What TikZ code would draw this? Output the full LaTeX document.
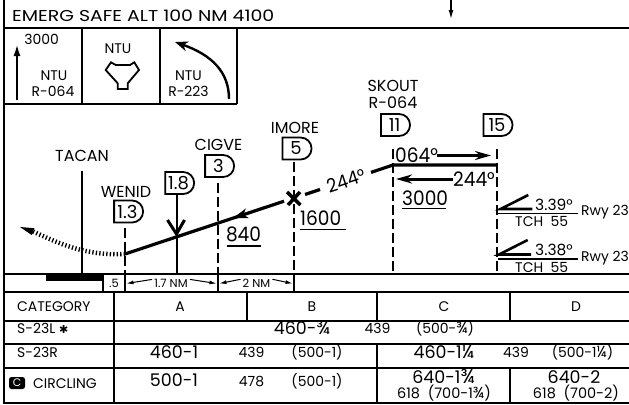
\documentclass[tikz,border=0pt]{standalone}
\usepackage{fontspec}
\setmainfont{Poppins}
\newfontfamily\widefont[FakeStretch=1.2]{Poppins}
\newfontfamily\altfont[FakeStretch=0.93]{Poppins}
\newfontfamily\symfont{DejaVu Sans}
\usetikzlibrary{arrows.meta,shapes.misc}
\newcommand\myfs[1]{\fontsize{#1}{#1}\selectfont}
\tikzset{
  txt/.style={inner sep=0pt, anchor=base},
  txtl/.style={inner sep=0pt, anchor=base west},
  frame/.style={line width=2bp},
  boxline/.style={line width=1.8bp},
  thinline/.style={line width=1.4bp},
  vdash/.style={line width=1.4bp, dash pattern=on 10bp off 4bp},
  fix/.style={draw, line width=1.8bp, rounded rectangle, rounded rectangle left arc=none,
    minimum width=29bp, minimum height=22bp, inner sep=0pt, font=\myfs{18}},
  pathline/.style={line width=3.2bp},
  fixname/.style={txt, font=\myfs{16}},
  alt/.style={txt, font=\altfont\myfs{20}},
  lab/.style={txt, font=\myfs{14}},
  gsl/.style={txt, font=\myfs{15.5}},
  small/.style={txt, font=\myfs{11.5}},
  big/.style={txt, font=\myfs{17.5}},
  mid/.style={txt, font=\myfs{14}},
  sarr/.style={line width=1bp, -{Latex[length=7bp,width=4bp]}},
}
\begin{document}
\begin{tikzpicture}[x=1bp,y=-1bp]
\useasboundingbox (0,0) rectangle (629,404);
% ---------- header ----------
\draw[frame] (4,0) -- (4,404);
\draw[frame] (4,27.5) -- (629,27.5);
\node[txtl, font=\widefont\myfs{15.8}] (title) at (12,21.5) {EMERG SAFE ALT 100 NM 4100};
\coordinate (dtop) at (451,0);
\coordinate (dbot) at (451,19);
\draw[line width=1.2bp, -{Latex[length=9bp,width=5bp]}] (dtop) -- (dbot);
% boxes
\draw[boxline] (82,27.5) -- (82,104) (160,27.5) -- (160,104) (237,27.5) -- (237,104);
\draw[boxline] (4,104) -- (237,104);
% box 1
\coordinate (ua) at (17,100);
\coordinate (ub) at (17,44);
\draw[line width=2.2bp, -{Latex[length=12bp,width=7bp]}] (ua) -- (ub);
\node[lab] (b1alt) at (41.7,44) {3000};
\node[lab] (b1ntu) at (54,80) {NTU};
\node[lab] (b1r) at (53,96.5) {R-064};
% box 2
\node[lab] (b2ntu) at (118,53) {NTU};
\draw[line width=1.8bp, line join=miter] (115.7,65) -- (111,62.3) -- (105.7,70) -- (117.7,83.3) -- (117.7,89)
  -- (127.7,89) -- (127.7,83.3) -- (139,70) -- (134.3,62.3) -- (130,65) -- cycle;
% box 3
\node[lab] (b3ntu) at (188.5,80) {NTU};
\node[lab] (b3r) at (188.5,96.5) {R-223};
\coordinate (ca) at (229,99);
\coordinate (cb) at (175,42);
\draw[line width=2.4bp, -{Stealth[length=13bp,width=10bp]}] (ca) .. controls (229,72) and (212,55) .. (cb);
% ---------- profile ----------
\node[fixname] (tacan) at (82,161.7) {TACAN};
\coordinate (t1) at (82,171);
\coordinate (t2) at (82,275);
\draw[thinline] (t1) -- (t2);
% fixes
\node[fixname] (wenid) at (126,197) {WENID};
\node[fix] (f13) at (127.5,211.5) {1.3};
\coordinate (w1) at (125,228);
\coordinate (w2) at (125,274);
\draw[vdash] (w1) -- (w2);

\node[fix] (f18) at (178.5,183) {1.8};
\coordinate (e1) at (177,194);
\coordinate (e2) at (177,274);
\draw[thinline] (e1) -- (e2);

\node[fixname] (cigve) at (218.5,150) {CIGVE};
\node[fix] (f3) at (218.5,166) {3};
\coordinate (c1) at (218,183);
\coordinate (c2) at (218,274);
\draw[vdash] (c1) -- (c2);

\node[fixname] (imore) at (295,133) {IMORE};
\node[fix] (f5) at (296,148.5) {5};
\coordinate (i1) at (294,162);
\coordinate (i2) at (294,274);
\draw[vdash] (i1) -- (i2);

\node[fixname] (skout) at (393,91) {SKOUT};
\node[fixname] (skoutr) at (393,108) {R-064};
\node[fix] (f11) at (394.5,125) {11};
\coordinate (s1) at (393,149);
\coordinate (s2) at (393,274);
\draw[vdash] (s1) -- (s2);

\node[fix] (f15) at (497,125) {15};
\coordinate (m1) at (497,149);
\coordinate (m2) at (497,274);
\draw[vdash] (m1) -- (m2);

% descent path
\coordinate (pW) at (125,254);
\coordinate (pA) at (284,201.2);
\coordinate (pB) at (305,194.5);
\coordinate (pC) at (320,189.5);
\coordinate (pD) at (371,172.4);
\coordinate (pS) at (393,165);
\coordinate (pE) at (497,165);
\draw[pathline] (pW) -- (pA);
\draw[pathline] (pB) -- (pC);
\draw[pathline] (pD) -- (pS) -- (pE);
\node[txt, font=\altfont\myfs{19}, anchor=center, rotate=18.4] (l244) at (346,180.6) {244°};
\draw[line width=3.5bp] (287,192) -- (300.5,205) (288,205) -- (300,192);
\coordinate (qa) at (252,211.8);
\coordinate (qb) at (233,218.1);
\draw[line width=2bp, -{Stealth[length=15bp,width=10bp,inset=4bp]}] (qa) -- (qb);
% V marker
\draw[line width=3bp] (167.5,220) -- (176.5,234) -- (184.5,220);
% missed approach dotted curve
\coordinate (dc) at (33,231.5);
\draw[line width=4.5bp, dash pattern=on 1.3bp off 2.2bp] (pW) .. controls (85,256) and (58,243) .. (dc);
\fill (20,227) -- (34.3,228.2) -- (31.7,235) -- cycle;
% altitudes
\node[alt] (a840) at (243.5,241.7) {840};
\draw[line width=1.3bp] (227,246) -- (261,246);
\node[alt, anchor=base west] (a1600) at (300,225) {1600};
\draw[line width=1.3bp] (300,229.5) -- (346,229.5);
\node[alt, anchor=base west] (a3000) at (402,205) {3000};
\draw[line width=1.3bp] (402,208.5) -- (446,208.5);
% courses
\node[alt, anchor=base west] (c064) at (395,162) {064°};
\coordinate (r1) at (437,155.5);
\coordinate (r2) at (491,155.5);
\draw[line width=3bp, -{Stealth[length=16bp,width=9bp]}] (r1) -- (r2);
\node[alt, anchor=base east] (c244) at (495,186) {244°};
\coordinate (l1) at (453,179);
\coordinate (l2) at (396,179);
\draw[line width=3bp, -{Stealth[length=16bp,width=9bp]}] (l1) -- (l2);
% glide slopes
\draw[line width=2.6bp, line join=miter] (528.3,195) -- (500.5,209) -- (532.3,209);
\draw[line width=1.2bp] (498,213.5) -- (578,213.5);
\node[gsl, anchor=base west] (gs1) at (535,210) {3.39°};
\node[lab] (tch1) at (541.7,226.7) {TCH\ \ 55};
\node[lab, anchor=base west] (rwy1) at (581,215.7) {Rwy 23};
\draw[line width=2.6bp, line join=miter] (527.7,240) -- (499,254.5) -- (531,254.5);
\draw[line width=1.2bp] (498,259) -- (578,259);
\node[gsl, anchor=base west] (gs2) at (535,255) {3.38°};
\node[lab] (tch2) at (541.7,272) {TCH\ \ 55};
\node[lab, anchor=base west] (rwy2) at (581,261) {Rwy 23};
% ---------- scale strip ----------
\draw[frame] (4,274) -- (629,274);
\draw[frame] (4,292) -- (629,292);
\fill (46,275) rectangle (103,281);
\draw[thinline] (103,274) -- (103,292) (125,274) -- (125,292) (218,274) -- (218,292) (294,274) -- (294,292);
\node[small] (sc5) at (114,287.5) {.5};
\node[small] (sc17) at (171,287.5) {1.7 NM};
\node[small] (sc2) at (256.5,287.5) {2 NM};
\coordinate (a1) at (126.5,283.5);
\coordinate (a2) at (216.5,283.5);
\coordinate (a3) at (219.5,283.5);
\coordinate (a4) at (292.5,283.5);
\draw[sarr] (sc17.west) ++(-2,-4) -- (a1);
\draw[sarr] (sc17.east) ++(2,-4) -- (a2);
\draw[sarr] (sc2.west) ++(-2,-4) -- (a3);
\draw[sarr] (sc2.east) ++(2,-4) -- (a4);
% ---------- table ----------
\draw[frame] (4,321) -- (629,321) (4,344) -- (629,344) (4,368) -- (629,368) (4,403) -- (629,403);
\draw[frame] (114,292) -- (114,403) (247,292) -- (247,321) (377,292) -- (377,321) (377,344) -- (377,403)
  (510,292) -- (510,321) (510,368) -- (510,403);
\node[lab, anchor=base west] (cat) at (17,311.5) {CATEGORY};
\node[lab] (ca) at (180,311.5) {A};
\node[lab] (cb) at (312,311.5) {B};
\node[lab] (cc) at (444,311.5) {C};
\node[lab] (cd) at (576,311.5) {D};
\node[lab, anchor=base west] (s23l) at (17,333) {S-23L {\symfont\myfs{11}✱}};
\node[big] (v1) at (302,334) {460-{\myfs{19.5}¾}};
\node[mid] (v2) at (377.5,333) {439};
\node[mid] (v3) at (445,333) {(500-{\myfs{16}¾})};
\node[lab, anchor=base west] (s23r) at (17,357) {S-23R};
\node[big] (v4) at (174,358) {460-1};
\node[mid] (v5) at (251.5,357.5) {439};
\node[mid] (v6) at (317,357.5) {(500-1)};
\node[big] (v7) at (444,358) {460-1{\myfs{20}¼}};
\node[mid] (v8) at (516,357.5) {439};
\node[mid] (v9) at (582.5,357.5) {(500-1{\myfs{16}¼})};
\node[fill=black, text=white, rounded corners=2.5bp, minimum width=16bp, minimum height=12bp, inner sep=0pt,
  font=\myfs{11}] (cbox) at (17,383) {C};
\node[lab, anchor=base west] (circ) at (33,388.5) {CIRCLING};
\node[big] (v10) at (174,386) {500-1};
\node[mid] (v11) at (251.5,386) {478};
\node[mid] (v12) at (317,386) {(500-1)};
\node[big] (v13) at (443.5,383) {640-1{\myfs{20}¾}};
\node[txt, font=\myfs{14.5}] (v14) at (444,398) {618\ \ (700-1{\myfs{16}¾})};
\node[big] (v15) at (574,383) {640-2};
\node[txt, font=\myfs{14.5}] (v16) at (576,398) {618\ \ (700-2)};
\end{tikzpicture}
\end{document}
